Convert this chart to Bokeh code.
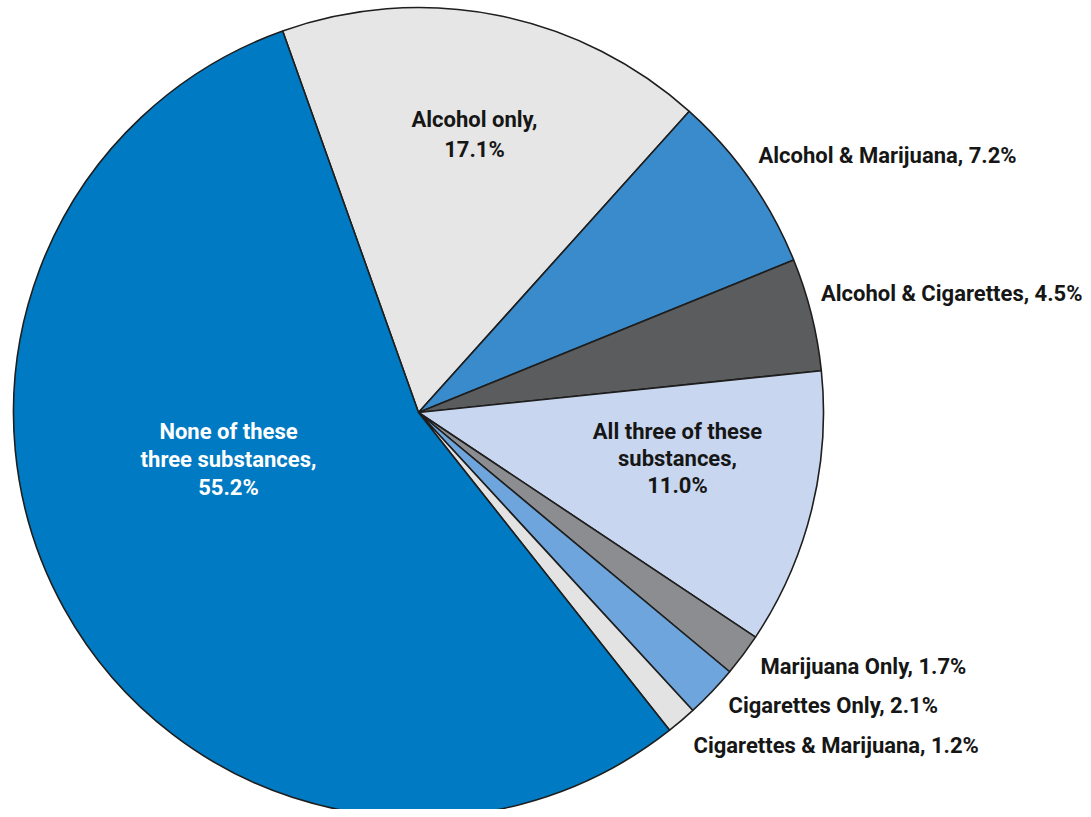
import math
from bokeh.plotting import figure
from bokeh.models import Range1d, ColumnDataSource
from bokeh.core.properties import value
from bokeh.embed import file_html
from bokeh.resources import INLINE

# ---- data ----
categories = ["Alcohol only", "Alcohol & Marijuana", "Alcohol & Cigarettes",
              "All three of these substances", "Marijuana Only", "Cigarettes Only",
              "Cigarettes & Marijuana", "None of these three substances"]
values = [17.1, 7.2, 4.5, 11.0, 1.7, 2.1, 1.2, 55.2]
label_texts = ["Alcohol only,\n17.1%", "Alcohol & Marijuana, 7.2%",
               "Alcohol & Cigarettes, 4.5%", "All three of these\nsubstances,\n11.0%",
               "Marijuana Only, 1.7%", "Cigarettes Only, 2.1%",
               "Cigarettes & Marijuana, 1.2%", "None of these\nthree substances,\n55.2%"]

# ---- style / layout ----
colors = ["#e6e6e6", "#3a8bcb", "#5b5c5e", "#c8d7ef", "#8b8d90", "#6ea5dc", "#e3e3e3", "#007ac2"]
text_colors = ["#161616"] * 7 + ["#ffffff"]
# label anchors in page pixels (x, baseline y of first line), alignment, line spacing
label_layout = [(474, 127, "center", 30), (758, 163, "left", 0), (1082, 301, "right", 0),
                (677, 439, "center", 27), (760, 674, "left", 0), (728, 713, "left", 0),
                (693, 753, "left", 0), (228, 439, "center", 28)]
TEXT_SHIFT = -8

W, H = 1083, 809
PAGE_H = 817
CX, CY_IMG, R = 418, 412, 405
START_DEG = 109.6

def py(img_y):
    return PAGE_H - img_y

p = figure(width=W, height=H, output_backend="svg", toolbar_location=None,
           x_range=Range1d(0, W), y_range=Range1d(PAGE_H - H, PAGE_H),
           min_border=0)
p.axis.visible = False
p.grid.visible = False
p.outline_line_color = None
p.background_fill_color = "white"

total = sum(values)
starts, ends = [], []
cum = 0.0
a0 = math.radians(START_DEG)
for v in values:
    s = a0 - cum / total * 2 * math.pi
    cum += v
    e = a0 - cum / total * 2 * math.pi
    starts.append(s)
    ends.append(e)

src = ColumnDataSource(dict(x=[CX] * len(values), y=[py(CY_IMG)] * len(values),
                            start=starts, end=ends, color=colors, cat=categories, val=values))
p.wedge(x="x", y="y", radius=R, start_angle="start", end_angle="end", direction="clock",
        fill_color="color", line_color="#1e1e1e", line_width=1.6, source=src)

xs, ys, ts, aligns, tcols = [], [], [], [], []
for txt, (lx, ly, al, sp), tc in zip(label_texts, label_layout, text_colors):
    for i, line in enumerate(txt.split("\n")):
        xs.append(lx)
        ys.append(py(ly + i * sp + TEXT_SHIFT))
        ts.append(line)
        aligns.append(al)
        tcols.append(tc)

lsrc = ColumnDataSource(dict(x=xs, y=ys, t=ts, a=aligns, c=tcols))
p.text(x="x", y="y", text="t", text_align="a", text_baseline="alphabetic",
       text_color="c", text_font=value("Roboto"), text_font_style="bold",
       text_font_size="22px", source=lsrc)

open("out.html", "w").write(file_html(p, INLINE))
